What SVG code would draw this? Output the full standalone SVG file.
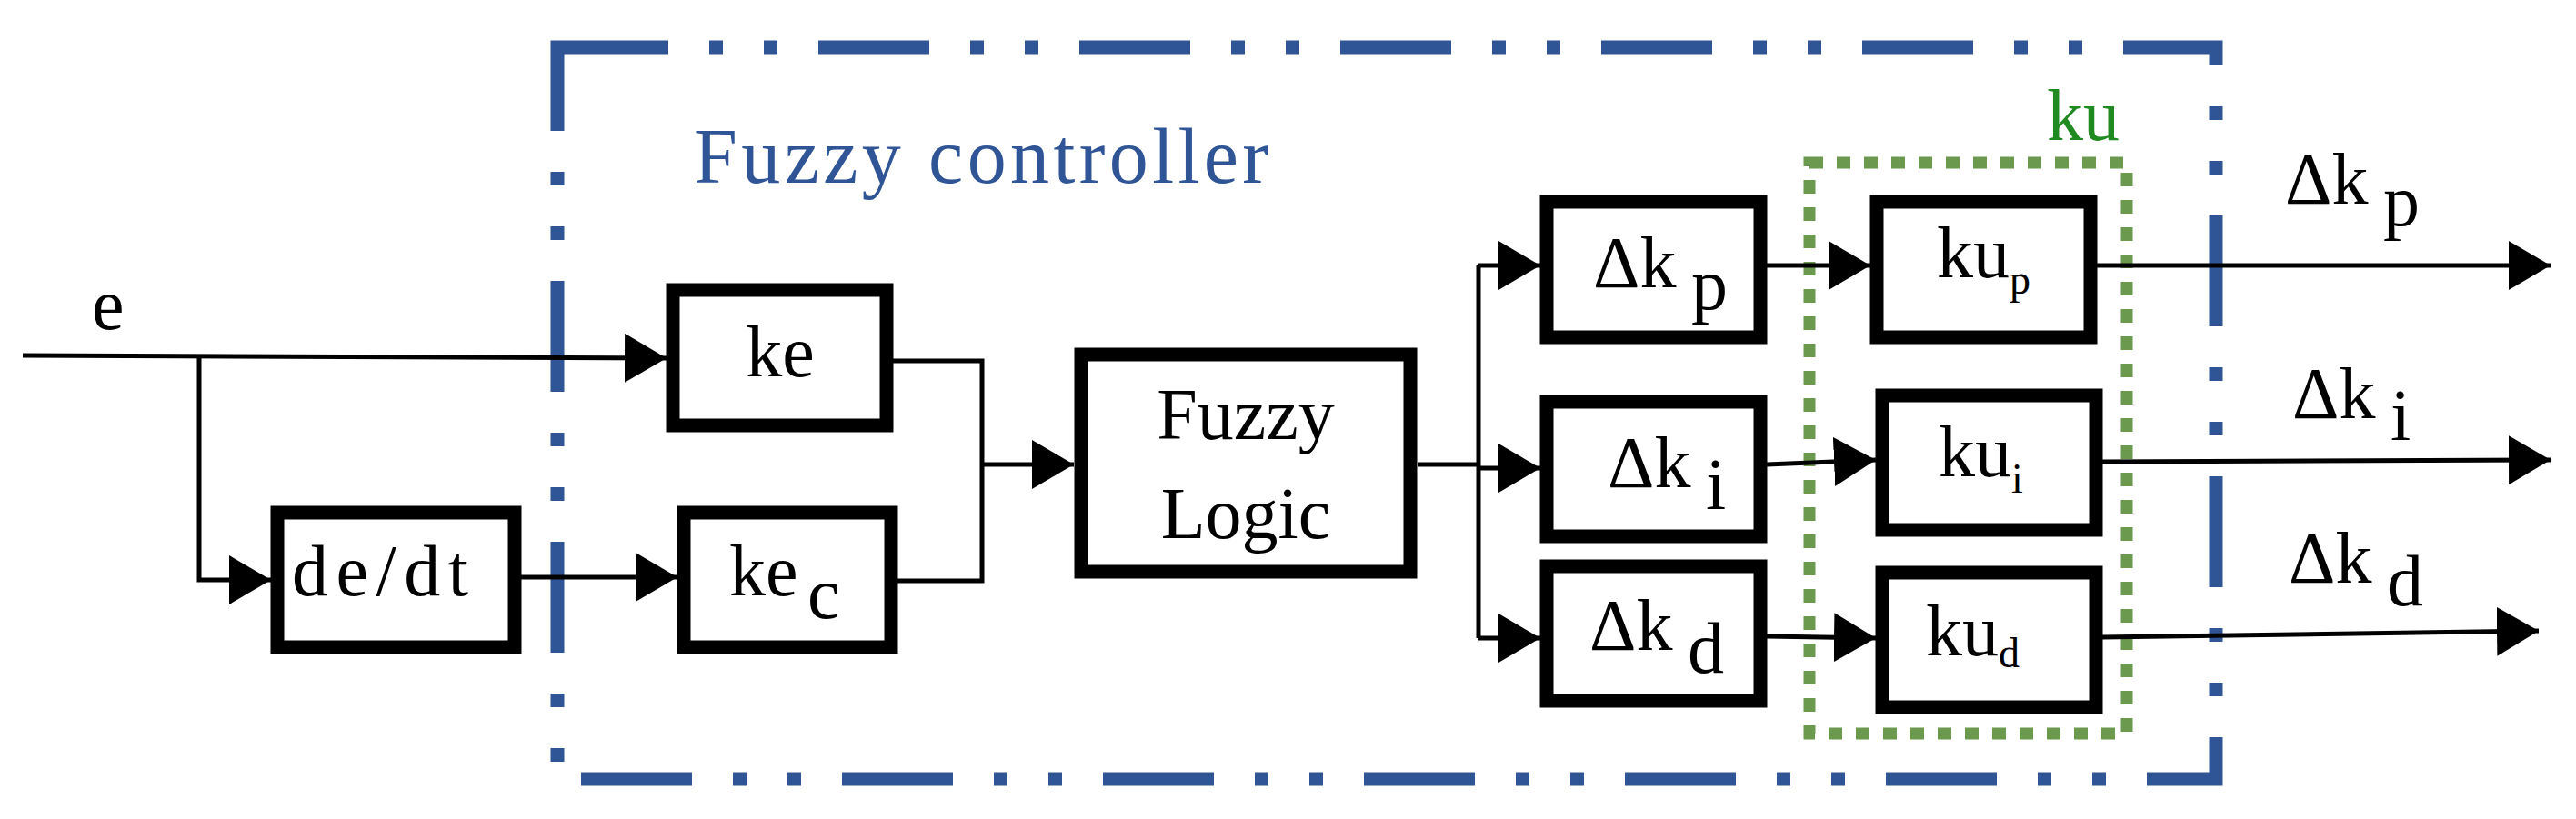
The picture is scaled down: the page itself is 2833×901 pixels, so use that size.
<svg xmlns="http://www.w3.org/2000/svg" width="2833" height="901" viewBox="0 0 2833 901">
<style>
.box{fill:#fff;stroke:#000;stroke-width:15}
.ln{fill:none;stroke:#000;stroke-width:5}
.t{font-family:"Liberation Serif",serif;font-size:80px;fill:#000}
.s{font-family:"Liberation Serif",serif;font-size:46px;fill:#000}
</style>
<defs>
<marker id="a" markerUnits="userSpaceOnUse" markerWidth="46" markerHeight="54" refX="46" refY="27" orient="auto"><path d="M0,0 L46,27 L0,54 Z" fill="#000"/></marker>
</defs>
<rect x="613" y="52" width="1824" height="805" fill="none" stroke="#2f5597" stroke-width="15" stroke-dasharray="122 45 15 45 15 45"/>
<text x="763" y="201" font-family="Liberation Serif,serif" font-size="86" fill="#2f5597" textLength="632">Fuzzy controller</text>
<rect x="1990" y="179" width="349" height="628" fill="none" stroke="#6b9a4f" stroke-width="13" stroke-dasharray="15 15"/>
<text x="2251" y="154" font-family="Liberation Serif,serif" font-size="80" fill="#1f8a1f">ku</text>
<g id="connectors">
<path class="ln" d="M25,391 L733,394" marker-end="url(#a)"/>
<path class="ln" d="M219,392 V638 H298" marker-end="url(#a)"/>
<path class="ln" d="M573,635 H745" marker-end="url(#a)"/>
<path class="ln" d="M982,397 H1080 V639 H987"/>
<path class="ln" d="M1080,511 H1181" marker-end="url(#a)"/>
<path class="ln" d="M1559,511 H1626"/>
<path class="ln" d="M1626,292 V702"/>
<path class="ln" d="M1626,292 H1694" marker-end="url(#a)"/>
<path class="ln" d="M1626,515 H1694" marker-end="url(#a)"/>
<path class="ln" d="M1626,702 H1694" marker-end="url(#a)"/>
<path class="ln" d="M1943,292 H2057" marker-end="url(#a)"/>
<path class="ln" d="M1943,511 L2063,506" marker-end="url(#a)"/>
<path class="ln" d="M1943,700 L2063,702" marker-end="url(#a)"/>
<path class="ln" d="M2306,292 H2805" marker-end="url(#a)"/>
<path class="ln" d="M2312,508 L2805,506" marker-end="url(#a)"/>
<path class="ln" d="M2312,701 L2792,694" marker-end="url(#a)"/>
</g>
<text class="t" x="101" y="362">e</text>
<g id="ke"><rect class="box" x="740" y="319" width="235" height="149"/><text class="t" x="858" y="414" text-anchor="middle">ke</text></g>
<g id="dedt"><rect class="box" x="305" y="564" width="261" height="148"/><text class="t" x="321" y="655" textLength="194">de/dt</text></g>
<g id="kec"><rect class="box" x="752" y="564" width="228" height="148"/><text class="t" x="802" y="655">ke</text><text class="t" x="888" y="680" font-size="60">c</text></g>
<g id="fuzzy"><rect class="box" x="1189" y="390" width="362" height="239"/><text class="t" x="1370" y="483" text-anchor="middle">Fuzzy</text><text class="t" x="1370" y="592" text-anchor="middle">Logic</text></g>
<g id="dkp"><rect class="box" x="1701" y="222" width="235" height="149"/><text class="t" x="1752" y="316">Δk</text><text class="t" x="1860" y="340">p</text></g>
<g id="dki"><rect class="box" x="1701" y="442" width="235" height="148"/><text class="t" x="1768" y="536">Δk</text><text class="t" x="1876" y="560">i</text></g>
<g id="dkd"><rect class="box" x="1701" y="623" width="235" height="148"/><text class="t" x="1748" y="715">Δk</text><text class="t" x="1856" y="740">d</text></g>
<g id="kup"><rect class="box" x="2064" y="222" width="235" height="149"/><text class="t" x="2130" y="305">ku</text><text class="s" x="2210" y="323">p</text></g>
<g id="kui"><rect class="box" x="2070" y="435" width="235" height="148"/><text class="t" x="2132" y="524">ku</text><text class="s" x="2212" y="542">i</text></g>
<g id="kud"><rect class="box" x="2070" y="630" width="235" height="148"/><text class="t" x="2118" y="721">ku</text><text class="s" x="2198" y="734">d</text></g>
<text class="t" x="2513" y="224">Δk</text><text class="t" x="2621" y="248">p</text>
<text class="t" x="2521" y="460">Δk</text><text class="t" x="2629" y="484">i</text>
<text class="t" x="2517" y="641">Δk</text><text class="t" x="2625" y="666">d</text>
</svg>
